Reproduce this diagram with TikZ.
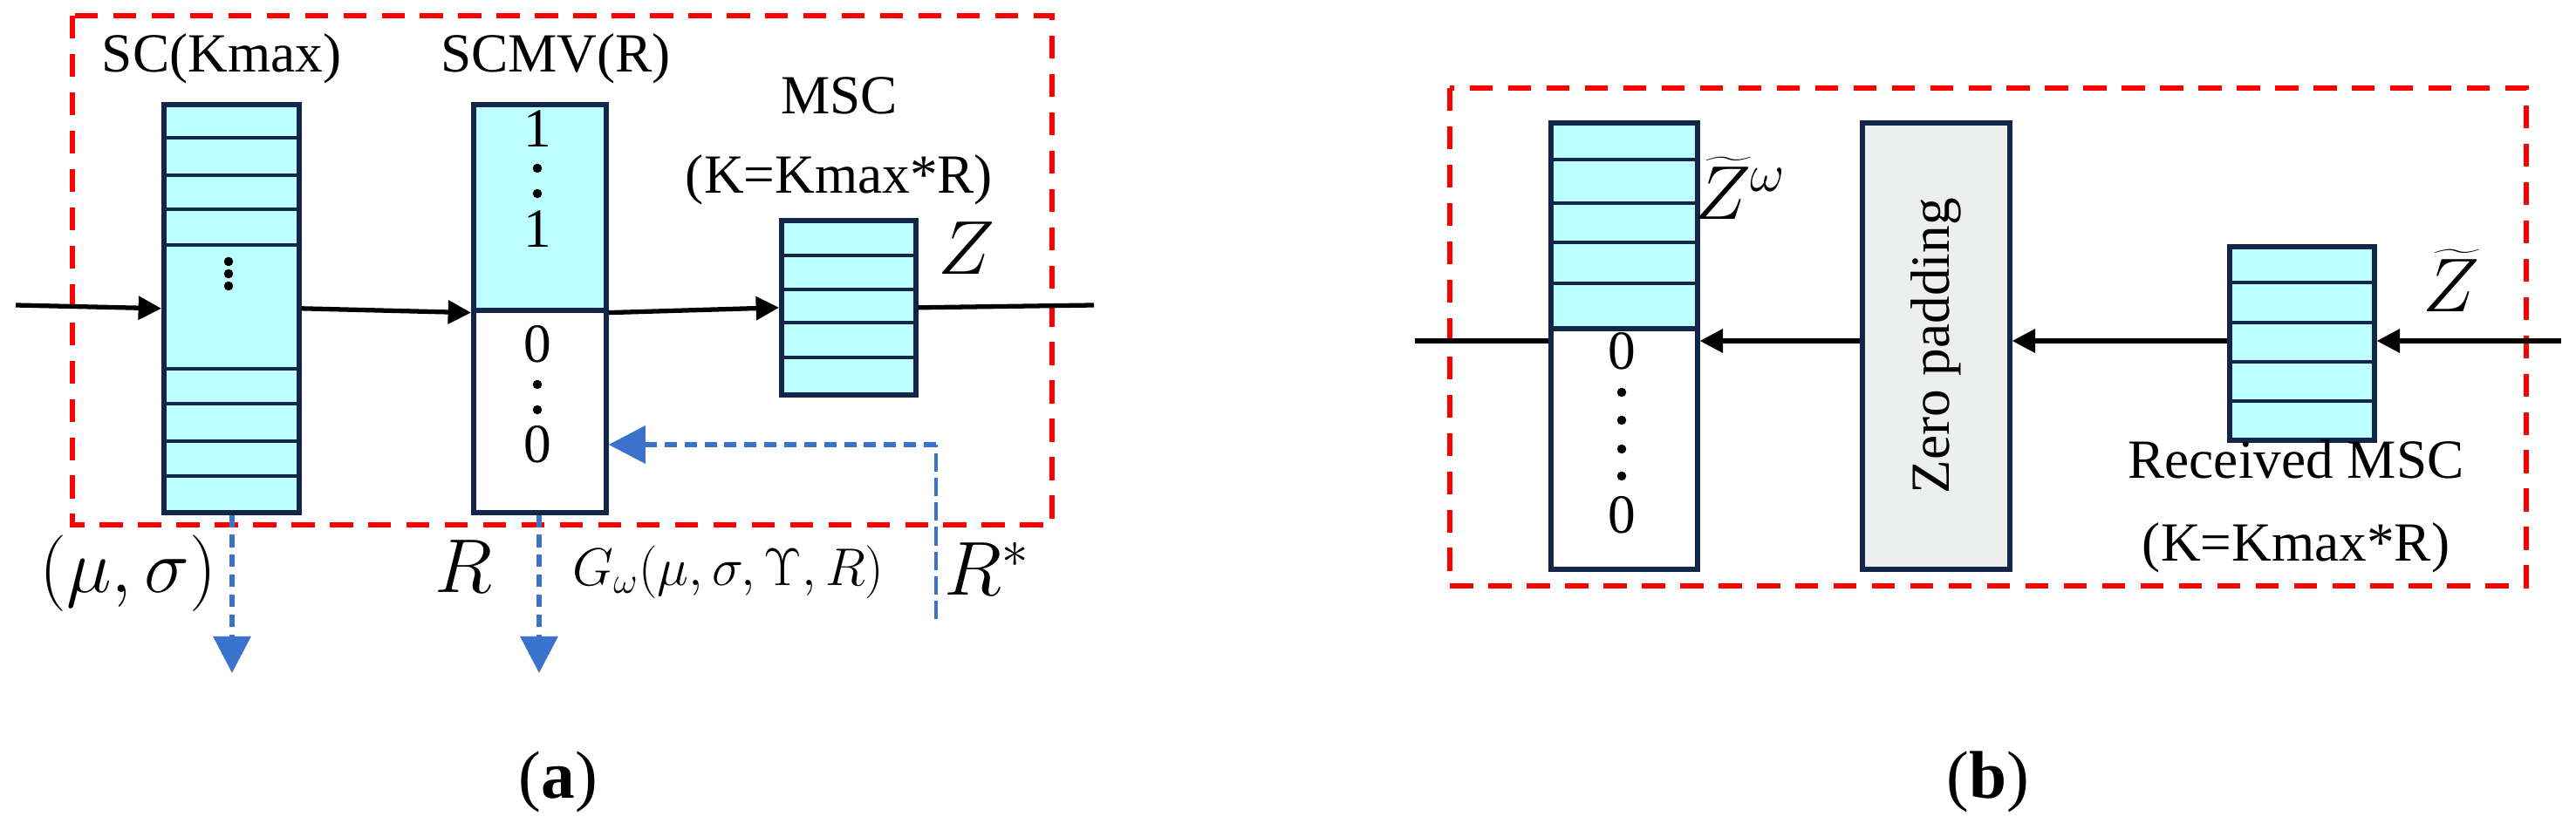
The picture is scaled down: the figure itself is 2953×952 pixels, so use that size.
\documentclass[tikz,border=0pt]{standalone}
\usepackage{fontspec}
\setmainfont{Liberation Serif}
\usetikzlibrary{arrows.meta,positioning}
\definecolor{cellfill}{HTML}{BBFFFF}
\definecolor{cellline}{HTML}{14254A}
\definecolor{padfill}{HTML}{EDEFEE}
\definecolor{ctrlblue}{HTML}{3A72CC}
\tikzset{
    col/.style={draw=cellline,line width=1.6pt,fill=cellfill,inner sep=0pt,anchor=north west},
    row/.style={cellline,line width=1.4pt},
    frame/.style={draw=red,line width=1.8pt,dash pattern=on 7.5pt off 5pt},
    flow/.style={-{Triangle[width=7.5pt,length=7.5pt]},line width=1.5pt},
    ctrl/.style={-{Triangle[width=12pt,length=12pt]},ctrlblue,line width=1.8pt,dash pattern=on 4pt off 2.5pt},
    lbl/.style={font=\fontsize{18}{20}\selectfont,inner sep=0pt},
    mlbl/.style={font=\fontsize{23}{25}\selectfont,inner sep=0pt},
}
\begin{document}
\begin{tikzpicture}[x=0.01cm,y=-0.01cm]
    \useasboundingbox (0,0) rectangle (2953,952);
    % panel (a)
    \draw [frame] (83,18) rectangle (1206,602);
    \node [col,minimum width=155*0.01cm,minimum height=468*0.01cm] (sc) at (185,117) {};
    \foreach \y in {158,201,240,281,423,463,506,546}
        \draw [row] (185,\y) -- (340,\y);
    \foreach \y in {300,314,328}
        \fill (262,\y) circle (1.5pt);
    \node [col,minimum width=152*0.01cm,minimum height=236*0.01cm] (scmv1) at (540,117) {};
    \node [col,fill=white,minimum width=152*0.01cm,minimum height=232*0.01cm] (scmv0) at (540,353) {};
    \node [lbl] (one1) at (616,148) {1};
    \node [lbl] (one2) at (616,263) {1};
    \node [lbl] (zer1) at (616,395) {0};
    \node [lbl] (zer2) at (616,510) {0};
    \foreach \y in {193,222,441,470}
        \fill (616,\y) circle (1.5pt);
    \node [col,minimum width=154*0.01cm,minimum height=200*0.01cm] (msc) at (893,250) {};
    \foreach \y in {293,332,370,410}
        \draw [row] (893,\y) -- (1047,\y);
    \node [lbl] (sclbl) at (254,67) {SC(Kmax)};
    \node [lbl] (scmvlbl) at (637,67) {SCMV(R)};
    \node [lbl,align=center] (msclbl) at (962,162) {MSC\\[6pt](K=Kmax*R)};
    \node [mlbl] (zlbl) at (1108,285) {$Z$};
    \coordinate (ain) at (18,350);
    \coordinate (aout) at (1254,350);
    \draw [flow] (ain) -- (sc.west);
    \draw [flow] (sc.east) -- (scmv1.south west);
    \draw [flow] (scmv1.south east) -- (msc.west);
    \draw [line width=1.5pt] (msc.east) -- (aout);
    % control signals
    \coordinate (ms) at (266,772);
    \coordinate (gw) at (618,772);
    \coordinate (rs) at (1073,710);
    \coordinate (rc) at (1073,510);
    \draw [ctrl] (sc.south -| ms) -- (ms);
    \draw [ctrl] (scmv0.south -| gw) -- (gw);
    \draw [ctrlblue,line width=1.2pt,dash pattern=on 6pt off 2pt] (rs) -- (rc);
    \draw [ctrl] (rc) -- (scmv0.east |- rc);
    \node [mlbl] (mslbl) at (147,658) {$(\mu,\sigma)$};
    \node [mlbl] (rlbl) at (531,650) {$R$};
    \node [lbl] (gwlbl) at (835,656) {$G_\omega(\mu,\sigma,\Upsilon,R)$};
    \node [mlbl] (rslbl) at (1132,652) {$R^*$};
    \node [font=\fontsize{22}{24}\selectfont] (capa) at (640,897) {(\textbf{a})};
    % panel (b)
    \draw [frame] (1662,101) rectangle (2896,672);
    \node [col,minimum width=168*0.01cm,minimum height=236*0.01cm] (zw1) at (1775,138) {};
    \node [col,fill=white,minimum width=168*0.01cm,minimum height=276*0.01cm] (zw0) at (1775,374) {};
    \foreach \y in {183,233,278,325}
        \draw [row] (1775,\y) -- (1943,\y);
    \node [lbl] (zer3) at (1859,403) {0};
    \node [lbl] (zer4) at (1859,591) {0};
    \foreach \y in {450,482,515,546}
        \fill (1859,\y) circle (1.5pt);
    \node [col,fill=padfill,minimum width=169*0.01cm,minimum height=512*0.01cm] (pad) at (2132,138) {};
    \node [lbl,rotate=90] (padlbl) at (pad.center) {Zero padding};
    \node [col,minimum width=166*0.01cm,minimum height=222*0.01cm] (rx) at (2553,280) {};
    \foreach \y in {324,370,415,460}
        \draw [row] (2553,\y) -- (2719,\y);
    \node [mlbl] (zwlbl) at (1995,216) {$\widetilde{Z}^{\omega}$};
    \node [mlbl] (ztlbl) at (2810,322) {$\widetilde{Z}$};
    \node [lbl,align=center] (rxlbl) at (2632,581) {Received MSC\\[7pt](K=Kmax*R)};
    \coordinate (bin) at (2936,391);
    \coordinate (bout) at (1622,391);
    \draw [flow] (bin) -- (rx.east |- bin);
    \draw [flow] (rx.west |- bin) -- (pad.east |- bin);
    \draw [flow] (pad.west |- bin) -- (zw0.east |- bin);
    \draw [line width=1.5pt] (zw0.west |- bin) -- (bout);
    \node [font=\fontsize{22}{24}\selectfont] (capb) at (2279,897) {(\textbf{b})};
\end{tikzpicture}
\end{document}
